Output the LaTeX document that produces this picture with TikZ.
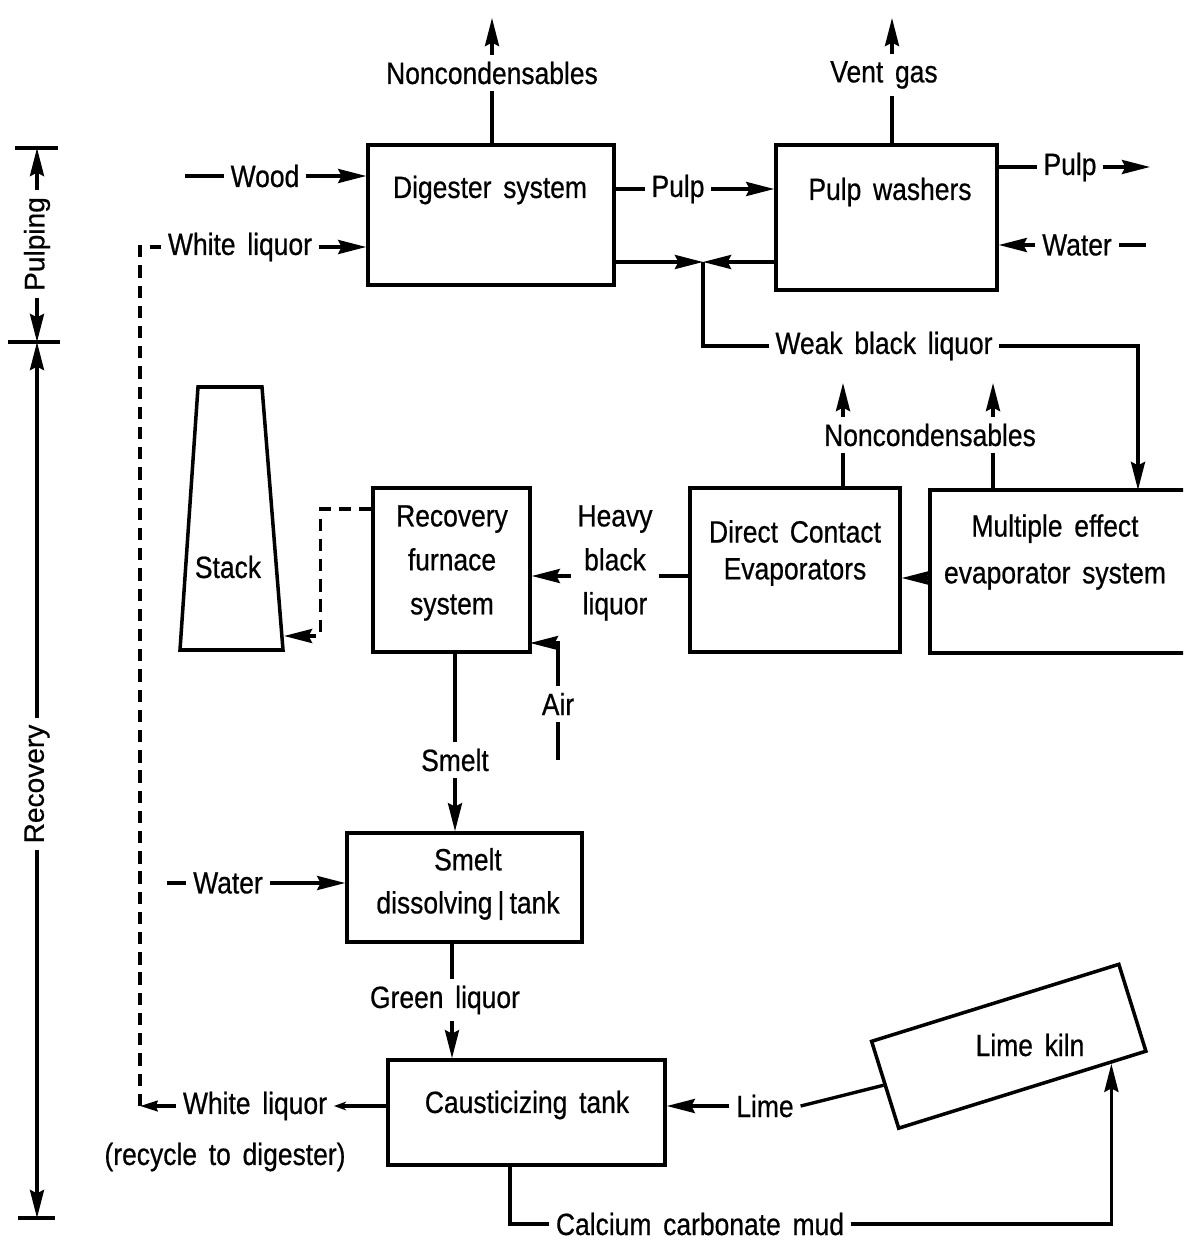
\documentclass[tikz,border=0pt]{standalone}
\usepackage{fontspec}
\setmainfont[FakeStretch=0.86,WordSpace=1.6,FakeBold=0.6]{Liberation Sans}
\newfontfamily\sidefont[FakeBold=0.6]{Liberation Sans}
\usetikzlibrary{arrows.meta,calc,fit}
\begin{document}
\begin{tikzpicture}[x=0.02cm,y=-0.02cm,line width=1.9pt,
  box/.style={draw,inner sep=0pt,line width=2pt},
  lbl/.style={inner sep=3pt,align=center,font=\fontsize{17.5}{25}\selectfont},
  side/.style={inner sep=3pt,font=\sidefont\fontsize{16}{19}\selectfont},
  arr/.style={-{Stealth[length=16pt,width=8pt,inset=2pt]}},
  marr/.style={-{Stealth[length=10pt,width=6pt,inset=1pt]}},
  sarr/.style={-{Stealth[length=7pt,width=5pt]}},
  dsh/.style={dash pattern=on 7pt off 4.5pt}]
\useasboundingbox (0,0) rectangle (1183,1246);
\clip (0,0) rectangle (1183,1246);

% ---------- pulping section ----------
\node[box,fit={(368,145) (614,285)}] (dig) {};
\node[lbl] (digt) at (490,190) {Digester system};
\node[box,fit={(776,145) (997,290)}] (pw) {};
\node[lbl] (pwt) at (890,192) {Pulp washers};

\node[lbl] (nc1) at (492,73) {Noncondensables};
\coordinate (nc1tip) at (492,18);
\draw (dig.north -| nc1) -- (nc1.south);
\draw[arr] (nc1.north) -- (nc1tip);

\node[lbl] (vent) at (884,75) {Vent gas};
\coordinate (venttip) at (892,18);
\draw (pw.north -| venttip) -- (vent.south -| venttip);
\draw[arr] (vent.north -| venttip) -- (venttip);

\node[lbl] (wood) at (265,176) {Wood};
\coordinate (woodin) at (185,176);
\draw (woodin) -- (wood.west);
\draw[arr] (wood.east) -- (wood.east -| dig.west);

\node[lbl] (wl1) at (240,247) {White liquor};
\draw[arr] (wl1.east) -- (wl1.east -| dig.west);

\node[lbl] (pulp1) at (678,189) {Pulp};
\draw (dig.east |- pulp1) -- (pulp1.west);
\draw[arr] (pulp1.east) -- (pw.west |- pulp1);

\coordinate (jn) at (703,262);
\draw[arr] (dig.east |- jn) -- (jn);
\draw[arr] (pw.west |- jn) -- (jn);
\node[lbl] (wbl) at (884,346) {Weak black liquor};
\draw (jn) |- (wbl.west);
\coordinate (meein) at (1138,490);
\draw[arr] (wbl.east) -| (meein);

\node[lbl] (pulp2) at (1070,167) {Pulp};
\coordinate (pulpout) at (1150,167);
\draw (pw.east |- pulp2) -- (pulp2.west);
\draw[arr] (pulp2.east) -- (pulpout);

\node[lbl] (water2) at (1077,245) {Water};
\coordinate (waterin) at (1146,245);
\draw[arr] (water2.west) -- (pw.east |- water2);
\draw (water2.east) -- (waterin);

% ---------- recovery section ----------
\node[box,fit={(930,490) (1200,653)}] (mee) {};
\node[lbl,font=\fontsize{17.5}{26.6}\selectfont] (meet) at (1055,552) {Multiple effect\\evaporator system};
\node[box,fit={(690,488) (900,652)}] (dce) {};
\node[lbl,font=\fontsize{17.5}{21}\selectfont] (dcet) at (795,553) {Direct Contact\\Evaporators};
\draw[arr] ([yshift=-0.13cm]mee.west) -- ([yshift=-0.13cm]mee.west -| dce.east);

\node[lbl] (nc2) at (930,435) {Noncondensables};
\coordinate (n2a) at (843,383);
\coordinate (n2b) at (993,383);
\draw (dce.north -| n2a) -- (nc2.south -| n2a);
\draw[arr] (nc2.north -| n2a) -- (n2a);
\draw (mee.north -| n2b) -- (nc2.south -| n2b);
\draw[arr] (nc2.north -| n2b) -- (n2b);

\node[box,fit={(373,488) (530,652)}] (rec) {};
\node[lbl] (rect) at (452,563) {Recovery\\furnace\\system};
\node[lbl] (hbl) at (615,563) {Heavy\\black\\liquor};
\coordinate (hbrow) at (0,576);
\draw (dce.west |- hbrow) -- (hbl.east |- hbrow);
\draw[arr] (hbl.west |- hbrow) -- (rec.east |- hbrow);

\node[lbl] (air) at (558,704) {Air};
\coordinate (airin) at (530,643);
\coordinate (airend) at (558,760);
\draw[arr] (air.north) |- (airin);
\draw (air.south) -- (airend);

\draw[line width=2pt] (198,387) -- (262,387) -- (283,650) -- (180,650) -- cycle;
\node[lbl] (stack) at (228,567) {Stack};
\coordinate (stackin) at (284,636);
\coordinate (r509) at (0,509);
\draw[dsh,arr] (rec.west |- r509) -- ++(-51,0) |- (stackin);

\node[lbl] (smelt) at (455,760) {Smelt};
\draw (rec.south -| smelt) -- (smelt.north);
\node[box,fit={(347,833) (582,942)}] (sdt) {};
\draw[arr] (smelt.south) -- (sdt.north -| smelt);
\node[lbl,font=\fontsize{17.5}{24.5}\selectfont] (sdtt) at (468,884) {Smelt\\dissolving\,|\,tank};

\node[lbl] (water3) at (228,883) {Water};
\coordinate (w3in) at (167,883);
\draw (w3in) -- (water3.west);
\draw[arr] (water3.east) -- (sdt.west |- water3);

\node[lbl] (gl) at (445,1000) {Green liquor};
\coordinate (glx) at (452,0);
\draw (sdt.south -| glx) -- (gl.north -| glx);
\node[box,fit={(388,1060) (665,1165)}] (cst) {};
\draw[arr] (gl.south -| glx) -- (cst.north -| glx);
\node[lbl] (cstt) at (527,1105) {Causticizing tank};

\node[lbl] (wl2) at (255,1106) {White liquor};
\draw[sarr] (cst.west |- wl2) -- (wl2.east);
\coordinate (dcorner) at (140,1106);
\coordinate (ucorner) at (140,247);
\draw[marr] (wl2.west) -- (dcorner);
\draw[dsh] (dcorner) -- (ucorner) -- (wl1.west);
\node[lbl] (recy) at (225,1157) {(recycle to digester)};

\node[lbl] (lime) at (765,1106) {Lime};
\draw[arr] (lime.west) -- (cst.east |- lime);
\node[box,rotate=17.3,minimum width=5.18cm,minimum height=1.82cm] (kiln) at (1008.75,1046.25) {};
\node[lbl] (kilnt) at (1030,1045) {Lime kiln};
\draw (lime.east) -- (kiln.west);
\coordinate (kilnin) at ($(kiln.south)!0.707!(kiln.south east)$);
\node[lbl] (mud) at (700,1224) {Calcium carbonate mud};
\coordinate (mudx) at (510,0);
\draw (cst.south -| mudx) |- (mud.west);
\draw[arr] (mud.east) -| (kilnin);

% ---------- side dimension ----------
\coordinate (t1) at (37,148);
\coordinate (t2) at (37,342);
\coordinate (t3) at (37,1218);
\draw (15,148) -- (58,148);
\draw (8,342) -- (60,342);
\draw (18,1218) -- (55,1218);
\node[side,rotate=90] (pulping) at (37,244) {Pulping};
\node[side,rotate=90] (recov) at (37,784) {Recovery};
\draw[arr] (pulping.east) -- (t1);
\draw[arr] (pulping.west) -- (t2);
\draw[arr] (recov.east) -- (t2);
\draw[arr] (recov.west) -- (t3);
\end{tikzpicture}
\end{document}
